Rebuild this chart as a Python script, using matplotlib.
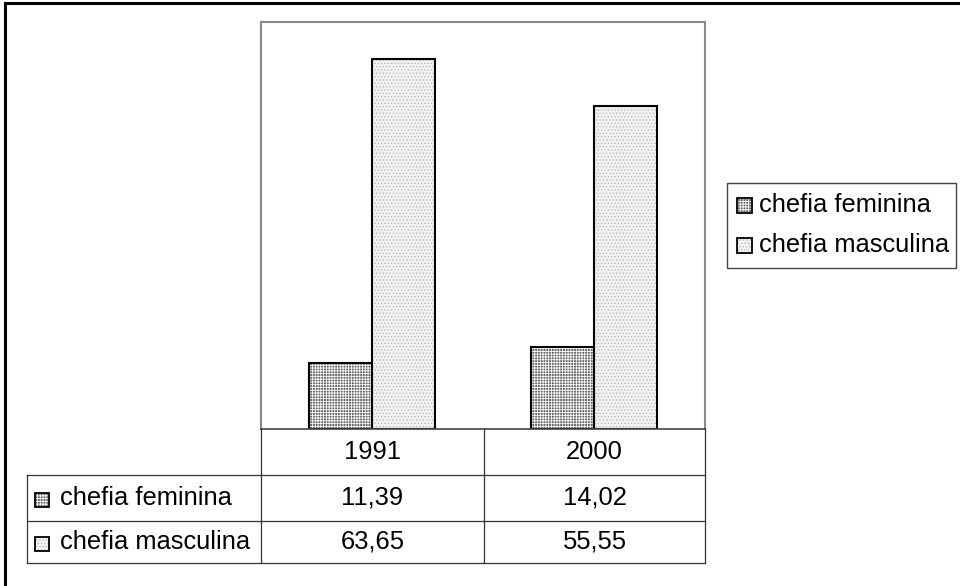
import matplotlib
matplotlib.use("Agg")
import matplotlib.pyplot as plt
from matplotlib.lines import Line2D
from matplotlib.patches import Rectangle
import numpy as np

# data
years = ["1991", "2000"]
feminina = [11.39, 14.02]
masculina = [63.65, 55.55]
series_names = ["chefia feminina", "chefia masculina"]

W, H = 960, 586
plt.rcParams["font.family"] = ["Liberation Sans", "DejaVu Sans"]
plt.rcParams["hatch.linewidth"] = 0.6
FS = 18.4

fig = plt.figure(figsize=(W / 100, H / 100), dpi=100)


def fx(x):
    return x / W


def fy(y):
    return 1 - y / H


def fig_line(x0, y0, x1, y1, color="#333333", lw=0.9):
    fig.add_artist(Line2D([fx(x0), fx(x1)], [fy(y0), fy(y1)],
                          transform=fig.transFigure, color=color, lw=lw))


def fig_box(x, y, w, h, face, hatch, hcolor):
    # filled + hatched square, then black outline
    fig.add_artist(Rectangle((fx(x), fy(y + h)), w / W, h / H, transform=fig.transFigure,
                             facecolor=face, edgecolor=hcolor, hatch=hatch, lw=0))
    fig.add_artist(Rectangle((fx(x), fy(y + h)), w / W, h / H, transform=fig.transFigure,
                             fill=False, edgecolor="black", lw=1.3))


# plot area in pixels
left, right, top, base = 261, 705, 22, 429
ax = fig.add_axes([fx(left), fy(base), (right - left) / W, (base - top) / H])

styles = [
    dict(face="#666666", hatch="++++++", hcolor="white"),
    dict(face="#f2f2f2", hatch=".....", hcolor="#b8b8b8"),
]

x = np.arange(len(years))
bw = 0.284
for vals, off, st in [(feminina, -bw / 2, styles[0]), (masculina, bw / 2, styles[1])]:
    ax.bar(x + off, vals, bw, color=st["face"], edgecolor=st["hcolor"], hatch=st["hatch"], lw=0)
    ax.bar(x + off, vals, bw, fill=False, edgecolor="black", lw=1.5)

ax.set_xlim(-0.5, len(years) - 0.5)
ax.set_ylim(0, 70)
ax.set_xticks([])
ax.set_yticks([])
for s in ["left", "right", "top"]:
    ax.spines[s].set_color("#888888")
    ax.spines[s].set_linewidth(1.5)
ax.spines["bottom"].set_color("#444444")
ax.spines["bottom"].set_linewidth(1.2)

# data table under the plot
col_x = [left, 484, right]
row_y = [base, 475, 521, 563]
label_left = 27

for cx in col_x:
    fig_line(cx, row_y[0], cx, row_y[-1])
fig_line(label_left, row_y[1], label_left, row_y[-1])
for ry in row_y[1:]:
    fig_line(label_left, ry, right, ry)

for i, yr in enumerate(years):
    cx = (col_x[i] + col_x[i + 1]) / 2
    fig.text(fx(cx), fy((row_y[0] + row_y[1]) / 2), yr, ha="center", va="center", fontsize=FS)

for r, (name, vals) in enumerate(zip(series_names, [feminina, masculina])):
    cy = (row_y[r + 1] + row_y[r + 2]) / 2
    st = styles[r]
    fig_box(35, cy - 5, 14, 14, st["face"], st["hatch"], st["hcolor"])
    fig.text(fx(60), fy(cy), name, ha="left", va="center", fontsize=FS)
    for i, v in enumerate(vals):
        cx = (col_x[i] + col_x[i + 1]) / 2
        fig.text(fx(cx), fy(cy), f"{v:.2f}".replace(".", ","), ha="center", va="center", fontsize=FS)

# legend
fig.add_artist(Rectangle((fx(727), fy(268)), (956 - 727) / W, (268 - 183) / H,
                         transform=fig.transFigure, fill=False, edgecolor="#444444", lw=1))
for r, name in enumerate(series_names):
    cy = 205 + r * 40
    st = styles[r]
    fig_box(737, cy - 7, 15, 15, st["face"], st["hatch"], st["hcolor"])
    fig.text(fx(759), fy(cy), name, ha="left", va="center", fontsize=FS)

# outer chart border (only top and left are visible)
fig_line(5, 3, W, 3, color="black", lw=2.2)
fig_line(5, 3, 5, H, color="black", lw=2.2)

fig.savefig("out.png", dpi=100)
